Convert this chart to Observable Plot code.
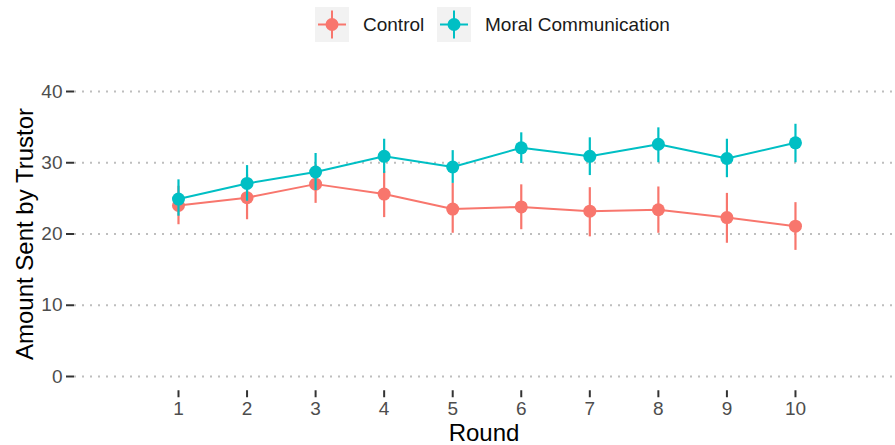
<!DOCTYPE html>
<html>
<head>
<meta charset="utf-8">
<script src="https://cdn.jsdelivr.net/npm/d3@7"></script>
<script src="https://cdn.jsdelivr.net/npm/@observablehq/plot@0.6"></script>
<style>
  html, body { margin: 0; padding: 0; background: #fff; }
  body { width: 895px; height: 445px; overflow: hidden; font-family: "Liberation Sans", Arial, sans-serif; }
  #legend { height: 50px; position: relative; }
  .item { position: absolute; top: 7px; display: flex; align-items: center; height: 35px; }
  .item span { font-size: 19px; color: #1a1a1a; margin-left: 14px; }
</style>
</head>
<body>
<div id="legend"></div>
<div id="chart"></div>
<script>
const rounds = [1, 2, 3, 4, 5, 6, 7, 8, 9, 10];
const groups = ["Control", "Moral Communication"];
const colors = ["#F8766D", "#00BFC4"];
const controlMean = [24.0, 25.1, 27.0, 25.6, 23.5, 23.8, 23.2, 23.4, 22.3, 21.1];
const controlLow  = [21.3, 22.0, 24.3, 22.3, 20.1, 20.6, 19.6, 20.1, 18.7, 17.7];
const controlHigh = [26.7, 28.3, 29.7, 28.8, 27.1, 26.9, 26.5, 26.6, 25.7, 24.4];
const moralMean = [24.9, 27.1, 28.7, 30.9, 29.4, 32.1, 30.9, 32.6, 30.6, 32.8];
const moralLow  = [22.5, 24.6, 26.1, 28.5, 27.1, 29.9, 28.2, 30.0, 27.9, 30.0];
const moralHigh = [27.6, 29.6, 31.3, 33.3, 31.7, 34.2, 33.5, 34.9, 33.3, 35.4];
const yTicks = [0, 10, 20, 30, 40];
const xLabel = "Round";
const yLabel = "Amount Sent by Trustor";

const data = [];
rounds.forEach((r, i) => {
  data.push({round: r, group: groups[0], mean: controlMean[i], low: controlLow[i], high: controlHigh[i]});
});
rounds.forEach((r, i) => {
  data.push({round: r, group: groups[1], mean: moralMean[i], low: moralLow[i], high: moralHigh[i]});
});

// Legend
const legend = document.getElementById("legend");
const lefts = [315, 437];
groups.forEach((g, i) => {
  const item = document.createElement("div");
  item.className = "item";
  item.style.left = lefts[i] + "px";
  item.innerHTML = `<svg width="34" height="35" viewBox="0 0 34 35">
    <rect width="34" height="35" fill="#F2F2F2"/>
    <line x1="3" x2="31" y1="17.5" y2="17.5" stroke="${colors[i]}" stroke-width="2"/>
    <line x1="17" x2="17" y1="3.5" y2="31.5" stroke="${colors[i]}" stroke-width="2"/>
    <circle cx="17" cy="17.5" r="6.5" fill="${colors[i]}"/>
  </svg><span>${g}</span>`;
  legend.appendChild(item);
});

const color = {domain: groups, range: colors};
const chart = Plot.plot({
  width: 895,
  height: 395,
  marginLeft: 74,
  marginRight: 2,
  marginTop: 26.75,
  marginBottom: 54.75,
  style: {fontFamily: "'Liberation Sans', Arial, sans-serif", background: "#fff"},
  x: {domain: [-0.517, 11.43]},
  y: {domain: [-2, 42]},
  color,
  marks: [
    Plot.ruleY(yTicks, {stroke: "#BEBEBE", strokeWidth: 2, strokeDasharray: "2,6"}),
    Plot.axisY(yTicks, {tickSize: 8, tickPadding: 4, fontSize: 19, stroke: "#333333", strokeWidth: 2, fill: "#4D4D4D", label: null}),
    Plot.axisX(rounds, {tickSize: 7, tickPadding: 4, fontSize: 19, stroke: "#333333", strokeWidth: 2, fill: "#4D4D4D", label: null}),
    Plot.text([xLabel], {frameAnchor: "bottom", dy: 50, fontSize: 24, fill: "#000"}),
    Plot.text([yLabel], {frameAnchor: "left", textAnchor: "middle", dx: -49, rotate: -90, fontSize: 24, fill: "#000"}),
    Plot.line(data, {x: "round", y: "mean", stroke: "group", z: "group", strokeWidth: 2}),
    Plot.ruleX(data.filter(d => d.group === groups[0]), {x: "round", y1: "low", y2: "high", stroke: "group", strokeWidth: 2.2}),
    Plot.dot(data.filter(d => d.group === groups[0]), {x: "round", y: "mean", fill: "group", r: 6.5}),
    Plot.ruleX(data.filter(d => d.group === groups[1]), {x: "round", y1: "low", y2: "high", stroke: "group", strokeWidth: 2.2}),
    Plot.dot(data.filter(d => d.group === groups[1]), {x: "round", y: "mean", fill: "group", r: 6.5})
  ]
});
document.getElementById("chart").appendChild(chart);
</script>
</body>
</html>
